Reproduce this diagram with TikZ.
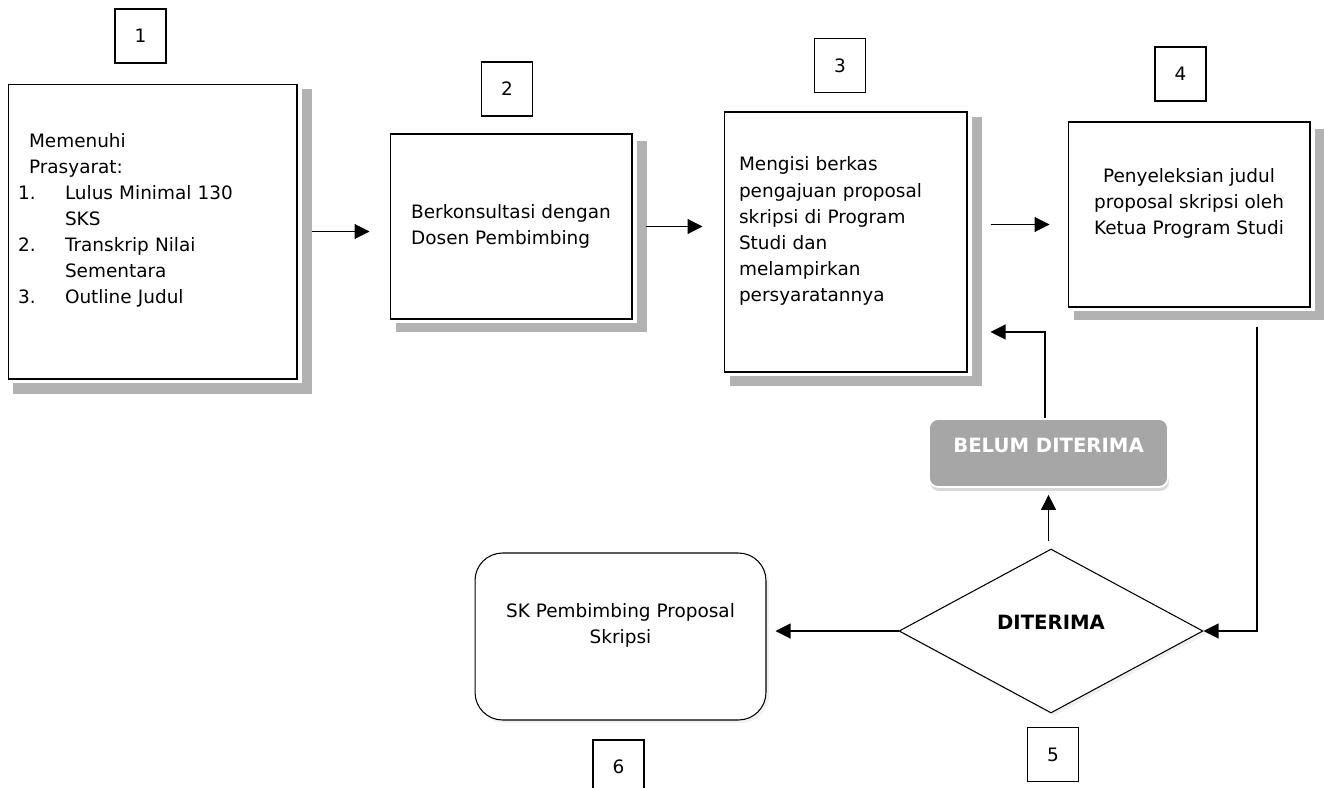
\documentclass[tikz,border=0pt]{standalone}
\usepackage{fontspec}
\setmainfont{DejaVu Sans}
\usetikzlibrary{arrows.meta,shapes.geometric,shadows}
\tikzset{
  numbox/.style={draw,line width=0.6pt,minimum width=1.02cm,minimum height=1.08cm,inner sep=0pt},
  stepbox/.style={draw,line width=0.6pt,fill=white,
    general shadow={fill=black!30,shadow scale=1.035,shadow xshift=0.2cm,shadow yshift=-0.19cm},
    general shadow={fill=white,shadow xshift=0.1cm,shadow yshift=-0.08cm}},
  boldtext/.style={font=\fontsize{11.2pt}{13pt}\selectfont\bfseries},
  conn/.style={line width=0.6pt,-{Triangle[length=0.3cm,width=0.3cm]}},
}
\begin{document}
\begin{tikzpicture}[x=0.02cm,y=-0.02cm,font=\fontsize{10.5pt}{14.8pt}\selectfont]
\useasboundingbox (0,0) rectangle (1324,787);
\clip (0,0) rectangle (1324,787);

%process boxes
\node[stepbox,minimum width=5.78cm,minimum height=5.9cm,text width=5.38cm,inner xsep=0.2cm,align=left] (b1) at (152.5,231.5) {%
  \hspace*{0.22cm}Memenuhi\\
  \hspace*{0.22cm}Prasyarat:\\
  \makebox[0.94cm][l]{1.}Lulus Minimal 130\\
  \hspace*{0.94cm}SKS\\
  \makebox[0.94cm][l]{2.}Transkrip Nilai\\
  \hspace*{0.94cm}Sementara\\
  \makebox[0.94cm][l]{3.}Outline Judul\\
  \mbox{}};
\node[stepbox,minimum width=4.84cm,minimum height=3.7cm,align=left] (b2) at (511,226.5) {Berkonsultasi dengan\\Dosen Pembimbing};
\node[stepbox,minimum width=4.86cm,minimum height=5.2cm,text width=4.26cm,inner xsep=0.3cm,align=left] (b3) at (845.5,242) {Mengisi berkas\\pengajuan proposal\\skripsi di Program\\Studi dan\\melampirkan\\persyaratannya\\\mbox{}};
\node[stepbox,minimum width=4.84cm,minimum height=3.7cm,align=center] (b4) at (1189,214.5) {Penyeleksian judul\\proposal skripsi oleh\\Ketua Program Studi\\\mbox{}};

%decision and results
\node[draw=white,line width=1pt,fill=black!35,rounded corners=0.18cm,minimum width=4.78cm,minimum height=1.36cm,
  text=white,boldtext,text depth=0.32cm,drop shadow={opacity=0.3,shadow xshift=0.02cm,shadow yshift=-0.08cm}] (bel) at (1048.5,453) {BELUM DITERIMA};
\node[draw,line width=0.6pt,diamond,aspect=1.85,minimum width=6.08cm,minimum height=3.28cm,inner sep=0pt,fill=white,
  boldtext,text depth=0.36cm,drop shadow={opacity=0.12,shadow xshift=0.06cm,shadow yshift=-0.06cm}] (dia) at (1051,631) {DITERIMA};
\node[draw,line width=0.6pt,rounded corners=0.55cm,minimum width=5.82cm,minimum height=3.34cm,align=center,fill=white,
  drop shadow={opacity=0.1,shadow xshift=0.06cm,shadow yshift=-0.06cm}] (sk) at (620.5,636.5) {SK Pembimbing Proposal\\Skripsi\\\mbox{}};

%step numbers
\foreach \n/\x/\y in {1/140.5/36,2/507/89,3/840/65.5,4/1180.5/74,5/1053/754.5,6/618.5/767}
  \node[numbox] (n\n) at (\x,\y) {\n};

%connectors
\draw[conn,shorten <=0.28cm,shorten >=0.4cm] (b1.east) -- (b1.east -| b2.west);
\draw[conn,shorten <=0.26cm,shorten >=0.42cm] (b2.east) -- (b2.east -| b3.west);
\draw[conn,shorten <=0.46cm,shorten >=0.36cm] ([yshift=-0.2cm]b4.west -| b3.east) -- ([yshift=-0.2cm]b4.west);
\draw[conn] ([xshift=1.36cm,yshift=-0.38cm]b4.south) |- (dia.east);
\draw[conn,shorten <=0.14cm,shorten >=0.14cm] (bel.south |- dia.north) -- (bel.south);
\draw[conn,shorten >=0.46cm] ([xshift=-0.07cm]bel.north) |- ([yshift=-1.8cm]b3.east);
\draw[conn,shorten >=0.18cm] (dia.west) -- (dia.west -| sk.east);
\end{tikzpicture}
\end{document}
